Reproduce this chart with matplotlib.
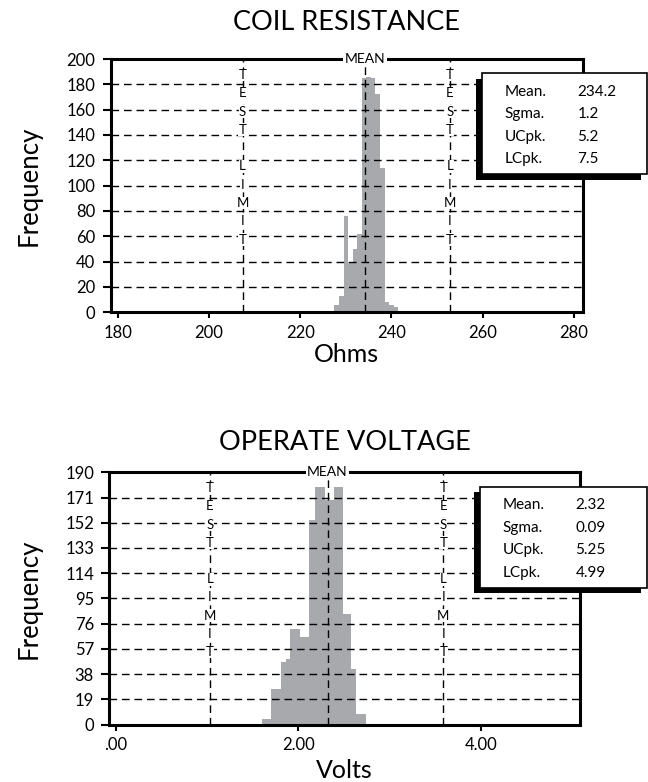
import matplotlib
matplotlib.use('Agg')
import matplotlib.pyplot as plt
from matplotlib.patches import Rectangle
from matplotlib.transforms import blended_transform_factory

plt.rcParams['font.family'] = ['Lato', 'DejaVu Sans']

# coil resistance, 1 ohm bins
ohm_edges = [227.5, 228.5, 229.5, 230.5, 231.5, 232.5, 233.5, 234.5,
             235.5, 236.5, 237.5, 238.5, 239.5, 240.5, 241.5]
ohm_counts = [6, 13, 76, 40, 50, 62, 185, 186, 185, 172, 114, 8, 6, 4]
ohm_xticks = [180, 200, 220, 240, 260, 280]
ohm_xticklabels = ['180', '200', '220', '240', '260', '280']
ohm_yticks = [0, 20, 40, 60, 80, 100, 120, 140, 160, 180, 200]
ohm_limits = [207.4, 252.8]
ohm_mean = 234.2
ohm_stats = ['234.2', '1.2', '5.2', '7.5']

# operate voltage
volt_edges = [1.60, 1.70, 1.81, 1.86, 1.91, 2.02, 2.12, 2.18, 2.29,
              2.39, 2.49, 2.58, 2.63, 2.74]
volt_counts = [4, 27, 47, 49, 72, 66, 154, 179, 169, 179, 83, 42, 8]
volt_xticks = [0, 2, 4]
volt_xticklabels = ['.00', '2.00', '4.00']
volt_yticks = [0, 19, 38, 57, 76, 95, 114, 133, 152, 171, 190]
volt_limits = [1.03, 3.59]
volt_mean = 2.32
volt_stats = ['2.32', '0.09', '5.25', '4.99']

stat_names = ['Mean.', 'Sgma.', 'UCpk.', 'LCpk.']
limit_text = 'TEST LIMIT'

W, H = 648, 782
GRAY = '#a7a9ac'
DASH = (0, (5.5, 3.5))

fig = plt.figure(figsize=(W / 100, H / 100), dpi=100)


def px_rect(left, top, right, bottom):
    return [left / W, 1 - bottom / H, (right - left) / W, (bottom - top) / H]


def panel(rect, edges, counts, xlim, xticks, xticklabels, yticks,
          limits, mean, title, title_y, xlabel, xlabel_y):
    ax = fig.add_axes(rect)
    ax.stairs(counts, edges, fill=True, color=GRAY, lw=0, zorder=1)
    ax.set_xlim(xlim)
    ax.set_ylim(yticks[0], yticks[-1])
    ax.set_xticks(xticks, xticklabels)
    ax.set_yticks(yticks)

    ax.yaxis.grid(True, color='black', lw=1.0, ls=DASH)
    ax.set_axisbelow(False)
    for s in ax.spines.values():
        s.set_linewidth(2.2)
    ax.tick_params(axis='y', direction='out', length=6, width=1.5,
                   pad=5, labelsize=12)
    ax.tick_params(axis='x', direction='out', length=4, width=1.5,
                   pad=5, labelsize=12)

    trans = blended_transform_factory(ax.transData, ax.transAxes)

    # spec limit lines with the vertical caption
    for lim in limits:
        ax.axvline(lim, color='black', lw=1.0, ls=DASH, zorder=2)
        for i, ch in enumerate(limit_text):
            if ch == ' ':
                continue
            ax.text(lim, 0.937 - i * 0.0722, ch, transform=trans,
                    ha='center', va='center', fontsize=9.5, zorder=4,
                    bbox=dict(fc='white', ec='none', pad=0.3))

    ax.axvline(mean, color='black', lw=1.0, ls=DASH, zorder=2)
    ax.text(mean, 1.0, 'MEAN', transform=trans, ha='center', va='center',
            fontsize=10, zorder=5, clip_on=False,
            bbox=dict(fc='white', ec='none', pad=1.0))

    x_mid = rect[0] + rect[2] / 2
    fig.text(x_mid, 1 - title_y / H, title, ha='center', va='center',
             fontsize=19.5)
    fig.text(x_mid, 1 - xlabel_y / H, xlabel, ha='center', va='center',
             fontsize=18)
    fig.text(29 / W, rect[1] + rect[3] / 2, 'Frequency', rotation=90,
             ha='center', va='center', fontsize=18.5)
    return ax


def stats_box(left, top, values):
    right, bottom = 646.5, top + 101
    x0, y0, w, h = px_rect(left, top, right, bottom)
    fig.add_artist(Rectangle((x0 - 6 / W, y0 - 5.5 / H), w, h,
                             transform=fig.transFigure, fc='black',
                             ec='none', zorder=5))
    fig.add_artist(Rectangle((x0, y0), w, h, transform=fig.transFigure,
                             fc='white', ec='black', lw=1.2, zorder=6))
    for i, (name, val) in enumerate(zip(stat_names, values)):
        y = 1 - (top + 18.5 + 22.5 * i) / H
        fig.text((left + 23) / W, y, name, ha='left', va='center',
                 fontsize=11, zorder=7)
        fig.text((left + 96) / W, y, val, ha='left', va='center',
                 fontsize=11, zorder=7)


panel(px_rect(110.7, 59, 582.7, 312.3), ohm_edges, ohm_counts,
      (178.5, 281.9), ohm_xticks, ohm_xticklabels, ohm_yticks,
      ohm_limits, ohm_mean, 'COIL RESISTANCE', 22, 'Ohms', 355)
stats_box(481.5, 73.3, ohm_stats)

panel(px_rect(109.3, 472.3, 580, 724.5), volt_edges, volt_counts,
      (-0.074, 5.09), volt_xticks, volt_xticklabels, volt_yticks,
      volt_limits, volt_mean, 'OPERATE VOLTAGE', 442.5, 'Volts', 770)
stats_box(479.5, 486.7, volt_stats)

fig.savefig('out.png', dpi=100)
